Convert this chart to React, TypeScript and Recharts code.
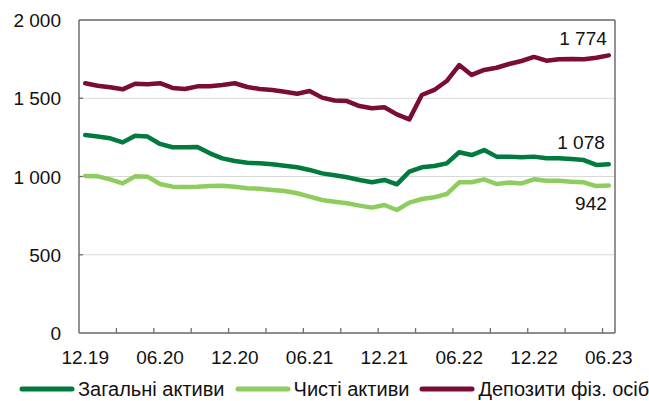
import { CartesianGrid, Legend, Line, LineChart, ReferenceLine, XAxis, YAxis } from 'recharts';

const months = [
  '12.19',
  '01.20', '02.20', '03.20', '04.20', '05.20', '06.20', '07.20', '08.20', '09.20', '10.20', '11.20', '12.20',
  '01.21', '02.21', '03.21', '04.21', '05.21', '06.21', '07.21', '08.21', '09.21', '10.21', '11.21', '12.21',
  '01.22', '02.22', '03.22', '04.22', '05.22', '06.22', '07.22', '08.22', '09.22', '10.22', '11.22', '12.22',
  '01.23', '02.23', '03.23', '04.23', '05.23', '06.23',
];
const tickLabels = ['12.19', '06.20', '12.20', '06.21', '12.21', '06.22', '12.22', '06.23'];

const totalAssets = [
  1265, 1255, 1244, 1218, 1261, 1255, 1208, 1187, 1187, 1189,
  1148, 1116, 1099, 1088, 1084, 1078, 1069, 1059, 1042, 1020,
  1008, 995, 978, 963, 978, 950, 1031, 1059, 1067, 1084,
  1155, 1137, 1169, 1127, 1127, 1123, 1127, 1116, 1116, 1112,
  1105, 1074, 1078,
];
const netAssets = [
  1003, 1001, 982, 956, 1001, 999, 952, 935, 933, 935,
  939, 941, 935, 925, 922, 914, 907, 893, 871, 850,
  839, 829, 814, 801, 818, 786, 833, 856, 867, 888,
  963, 963, 982, 952, 961, 956, 982, 973, 973, 967,
  963, 939, 942,
];
const householdDeposits = [
  1596, 1580, 1570, 1557, 1593, 1589, 1596, 1566, 1559, 1576,
  1576, 1585, 1596, 1572, 1559, 1553, 1542, 1529, 1546, 1504,
  1486, 1482, 1450, 1436, 1442, 1397, 1365, 1521, 1553, 1610,
  1712, 1649, 1681, 1695, 1719, 1738, 1764, 1740, 1749, 1751,
  1749, 1759, 1774,
];
const yTicks = [0, 500, 1000, 1500, 2000];

const data = months.map((m, i) => ({
  i,
  m,
  total: totalAssets[i],
  net: netAssets[i],
  deposits: householdDeposits[i],
}));

const FONT = "Arial, 'Liberation Sans', sans-serif";
const FRAME = '#6e6e6e';
const last = months.length - 1;

const series = [
  { key: 'total', name: 'Загальні активи', color: '#007a3d', dx: -4, dy: -15 },
  { key: 'net', name: 'Чисті активи', color: '#8fcc5e', dx: -2, dy: 24 },
  { key: 'deposits', name: 'Депозити фіз. осіб', color: '#7a0c36', dx: -2, dy: -10 },
];

const fmt = (v: number) => String(v).replace(/\B(?=(\d{3})+(?!\d))/g, ' ');

// label ticks sit on category centres, tick marks between every 3rd category
const labelTicks = tickLabels.map((t) => months.indexOf(t));
const markTicks = Array.from({ length: 14 }, (_, k) => 3 * k + 2.5);

const XTick = (props: any) => {
  const { x, y, payload } = props;
  const v = payload.value;
  if (Number.isInteger(v)) {
    return (
      <text x={x} y={y + 31} textAnchor="middle" fontSize={19} fontFamily={FONT} fill="#111">
        {months[v]}
      </text>
    );
  }
  return <line x1={x} x2={x} y1={y} y2={y - 5} stroke={FRAME} strokeWidth={1.3} />;
};

const YTick = (props: any) => {
  const { x, y, payload } = props;
  return (
    <g>
      <text x={x - 18} y={y + 7} textAnchor="end" fontSize={19} fontFamily={FONT} fill="#111">
        {fmt(payload.value)}
      </text>
      {payload.value > 0 && payload.value < 2000 && (
        <line x1={x} x2={x + 4} y1={y} y2={y} stroke={FRAME} strokeWidth={1.3} />
      )}
    </g>
  );
};

const endLabel = (dx: number, dy: number) => (props: any) => {
  const { x, y, index, value } = props;
  if (index !== last) return <g />;
  return (
    <text x={x + dx} y={y + dy} textAnchor="end" fontSize={19} fontFamily={FONT} fill="#111">
      {fmt(value)}
    </text>
  );
};

const LegendContent = () => (
  <div
    style={{
      display: 'flex',
      alignItems: 'center',
      height: 30,
      paddingLeft: 19,
      gap: 10,
      fontFamily: FONT,
      fontSize: 20,
      color: '#111',
      position: 'relative',
      top: 3,
    }}
  >
    {series.map((s) => (
      <div key={s.key} style={{ display: 'flex', alignItems: 'center' }}>
        <svg width={56} height={8}>
          <line x1={3} x2={53} y1={4} y2={4} stroke={s.color} strokeWidth={5} strokeLinecap="round" />
        </svg>
        <span style={{ marginLeft: 3, whiteSpace: 'nowrap' }}>{s.name}</span>
      </div>
    ))}
  </div>
);

export default function App() {
  return (
    <div style={{ position: 'absolute', left: 0, top: 0 }}>
      <LineChart width={649} height={401} data={data} margin={{ top: 20, right: 34, left: 0, bottom: 0 }}>
        <CartesianGrid horizontal vertical={false} stroke="#d9d9d9" />
        <XAxis
          dataKey="i"
          type="number"
          domain={[-0.5, 42.5]}
          ticks={[...labelTicks, ...markTicks]}
          interval={0}
          tick={<XTick />}
          tickLine={false}
          tickSize={0}
          tickMargin={0}
          height={38}
          axisLine={{ stroke: FRAME, strokeWidth: 1.5 }}
        />
        <YAxis
          domain={[0, 2000]}
          ticks={yTicks}
          interval={0}
          tick={<YTick />}
          tickLine={false}
          tickSize={0}
          tickMargin={0}
          width={79}
          axisLine={{ stroke: FRAME, strokeWidth: 1.5 }}
        />
        <ReferenceLine y={2000} stroke={FRAME} strokeWidth={1.5} />
        <ReferenceLine x={42.5} stroke={FRAME} strokeWidth={1.5} />
        {series.map((s) => (
          <Line
            key={s.key}
            dataKey={s.key}
            name={s.name}
            stroke={s.color}
            strokeWidth={4.5}
            strokeLinejoin="round"
            strokeLinecap="round"
            dot={false}
            activeDot={false}
            isAnimationActive={false}
            label={endLabel(s.dx, s.dy)}
          />
        ))}
        <Legend verticalAlign="bottom" height={30} wrapperStyle={{ left: 0, width: 649 }} content={<LegendContent />} />
      </LineChart>
    </div>
  );
}
